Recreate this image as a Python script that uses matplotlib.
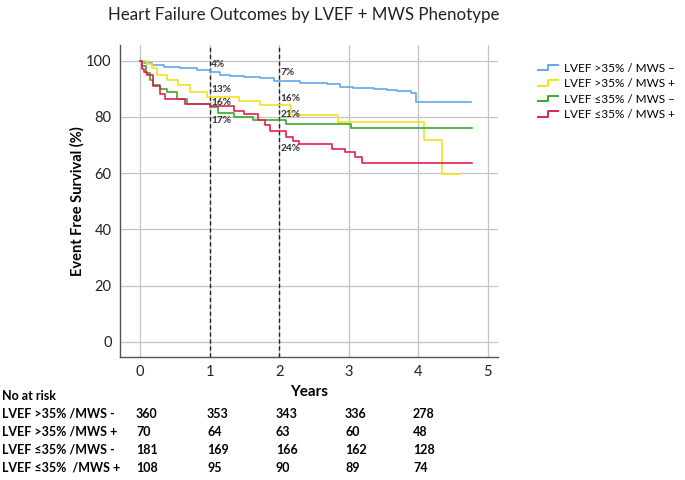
import matplotlib
matplotlib.use("Agg")
import matplotlib.pyplot as plt
from matplotlib.lines import Line2D
from matplotlib.legend_handler import HandlerBase

plt.rcParams['font.family'] = ['Lato', 'DejaVu Sans']

groups = ["LVEF >35% / MWS \u2013", "LVEF >35% / MWS +", "LVEF \u226435% / MWS \u2013", "LVEF \u226435% / MWS +"]
colors = ["#62a8ee", "#f2e21e", "#3aa82c", "#e2214c"]

blue_t = [0, 0.05, 0.17, 0.34, 0.58, 0.82, 1.0, 1.15, 1.3, 1.49, 1.73, 1.92, 2.3, 2.45, 2.69, 2.88, 3.07, 3.36, 3.55, 3.69, 3.9, 3.97, 4.76]
blue_s = [100, 99.3, 98.5, 97.9, 97.3, 96.7, 95.9, 95.1, 94.6, 94.3, 93.7, 92.8, 92.2, 92.0, 91.6, 90.8, 90.2, 89.9, 89.6, 89.2, 88.4, 85.3, 85.3]
yellow_t = [0, 0.1, 0.17, 0.24, 0.38, 0.55, 0.72, 0.96, 1.42, 1.73, 2.17, 2.85, 4.08, 4.34, 4.6]
yellow_s = [100, 99, 97.5, 95, 93.1, 91.4, 89, 87.2, 85.8, 84.2, 80.7, 78.3, 71.8, 59.7, 59.7]
green_t = [0, 0.03, 0.08, 0.14, 0.19, 0.28, 0.38, 0.53, 0.67, 1.0, 1.12, 1.35, 1.63, 2.1, 3.04, 4.78]
green_s = [100, 98, 95.5, 93, 91.2, 90, 88.9, 86.5, 84.7, 83.5, 81.5, 80, 78.8, 77.5, 76.1, 76.1]
red_t = [0, 0.02, 0.05, 0.1, 0.19, 0.29, 0.36, 0.65, 1.0, 1.35, 1.5, 1.7, 1.8, 1.87, 2.1, 2.2, 2.28, 2.76, 2.95, 3.09, 3.19, 4.77]
red_s = [100, 97, 96, 95, 91, 88, 86.5, 84.7, 84, 82.2, 81, 78.8, 77, 74.9, 72.8, 71.3, 70.5, 68.7, 67.5, 65.7, 63.5, 63.5]

series_t = [blue_t, yellow_t, green_t, red_t]
series_s = [blue_s, yellow_s, green_s, red_s]

# percentage annotations: (x, y, text)
ann_x = [1, 1, 1, 1, 2, 2, 2, 2]
ann_y = [98.5, 89.6, 85.2, 78.6, 95.8, 86.6, 80.9, 68.8]
ann_txt = ["4%", "13%", "16%", "17%", "7%", "16%", "21%", "24%"]

risk_labels = ["LVEF >35% /MWS -", "LVEF >35% /MWS +", "LVEF \u226435% /MWS -", "LVEF \u226435%  /MWS +"]
risk_blue = [360, 353, 343, 336, 278]
risk_yellow = [70, 64, 63, 60, 48]
risk_green = [181, 169, 166, 162, 128]
risk_red = [108, 95, 90, 89, 74]
risk_rows = [risk_blue, risk_yellow, risk_green, risk_red]
risk_xpx = [136, 207, 276, 345, 413]

xticks = [0, 1, 2, 3, 4, 5]
yticks = [0, 20, 40, 60, 80, 100]

W, H = 685, 480
fig = plt.figure(figsize=(W / 100, H / 100), dpi=100)
ax = fig.add_axes([120 / W, 1 - 357 / H, (498 - 120) / W, (357 - 45) / H])
ax.set_xlim(-0.29, 5.15)
ax.set_ylim(-5.4, 105.6)

for x in xticks:
    ax.axvline(x, color="#c4c4c4", lw=0.9, zorder=0)
for y in yticks:
    ax.axhline(y, color="#c4c4c4", lw=0.9, zorder=0)
for x in [1, 2]:
    ax.axvline(x, color="#222222", lw=1.0, ls=(0, (3, 2)), zorder=1)

for t, s, c in zip(series_t, series_s, colors):
    ax.step(t, s, where="post", color=c, lw=1.2, zorder=3)

for x, y, txt in zip(ann_x, ann_y, ann_txt):
    ax.text(x + 0.02, y, txt, fontsize=7.3, fontweight="bold", color="#333333",
            ha="left", va="center", zorder=4)

ax.set_xticks(xticks)
ax.set_yticks(yticks)
ax.tick_params(length=0, labelsize=10.5, colors="#222222", pad=6)
for sp in ["top", "right"]:
    ax.spines[sp].set_visible(False)
for sp in ["left", "bottom"]:
    ax.spines[sp].set_color("#555555")
    ax.spines[sp].set_linewidth(1.0)

ax.set_ylabel("Event Free Survival (%)", fontsize=10.5, fontweight="bold", labelpad=1)
ax.set_xlabel("Years", fontsize=11, fontweight="bold", labelpad=4)

fig.text(304 / W, 1 - 15 / H, "Heart Failure Outcomes by LVEF + MWS Phenotype",
         ha="center", va="center", fontsize=12.2, color="#222222")


class HandlerStep(HandlerBase):
    def create_artists(self, legend, orig_handle, xdescent, ydescent, width, height, fontsize, trans):
        x0 = -xdescent
        xs = [x0, x0 + width * 0.5, x0 + width * 0.5, x0 + width]
        ys = [height * 0.15, height * 0.15, height * 0.85, height * 0.85]
        ln = Line2D(xs, ys, color=orig_handle.get_color(), lw=1.4)
        ln.set_transform(trans)
        return [ln]


handles = [Line2D([], [], color=c) for c in colors]
fig.legend(handles, groups, loc="upper left", bbox_to_anchor=(527 / W, 1 - 52 / H),
           frameon=False, fontsize=8.5, handler_map={Line2D: HandlerStep()},
           handlelength=1.7, handletextpad=0.5, labelspacing=0.38)

fig.text(2 / W, 1 - 396 / H, "No at risk", fontsize=9, fontweight="bold", ha="left", va="center")
for i, (lab, row) in enumerate(zip(risk_labels, risk_rows)):
    ypx = 414 + 18 * i
    fig.text(2 / W, 1 - ypx / H, lab, fontsize=9, fontweight="bold", ha="left", va="center")
    for xp, v in zip(risk_xpx, row):
        fig.text(xp / W, 1 - ypx / H, str(v), fontsize=9, fontweight="bold", ha="left", va="center")

fig.savefig("out.png", dpi=100)
